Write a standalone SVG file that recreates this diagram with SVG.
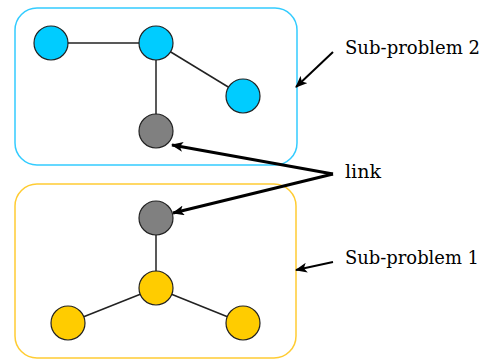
<svg xmlns="http://www.w3.org/2000/svg" width="498" height="360" viewBox="0 0 498 360">
<defs>
<marker id="ah" markerWidth="12" markerHeight="10" refX="11" refY="5" orient="auto" markerUnits="userSpaceOnUse">
<path d="M0,0 L12,5 L0,10 L3,5 Z" fill="#000"/>
</marker>
</defs>
<style>
.node{stroke:#222;stroke-width:1.2}
.blue{fill:#00CCFF}
.yel{fill:#FFCC00}
.gray{fill:#808080}
.edge{stroke:#222;stroke-width:1.5;fill:none}
.link{stroke:#000;stroke-width:3;fill:none;marker-end:url(#ah)}
.ptr{stroke:#000;stroke-width:2;fill:none;marker-end:url(#ah)}
text{font-family:"DejaVu Serif","Liberation Serif",serif;font-size:18px;fill:#000}
</style>
<rect x="0" y="0" width="498" height="360" fill="#fff"/>
<g id="box2"><rect x="15" y="8" width="282" height="157" rx="22" fill="none" stroke="#33CCFF" stroke-width="1.5"/></g>
<g id="box1"><rect x="15" y="184" width="281" height="174" rx="22" fill="none" stroke="#FFCC33" stroke-width="1.5"/></g>
<g id="connectors">
<line class="edge" x1="51" y1="43" x2="156" y2="43"/>
<line class="edge" x1="156" y1="43" x2="243" y2="96"/>
<line class="edge" x1="156" y1="43" x2="156" y2="131"/>
<line class="edge" x1="156" y1="218" x2="156" y2="288"/>
<line class="edge" x1="156" y1="288" x2="68" y2="323"/>
<line class="edge" x1="156" y1="288" x2="243" y2="323"/>
<polyline class="link" points="333,174 172,145"/>
<polyline class="link" points="333,174 173,213"/>
<line class="ptr" x1="333" y1="52" x2="296" y2="87"/>
<line class="ptr" x1="333" y1="262" x2="296" y2="270"/>
</g>
<g id="n1"><circle class="node blue" cx="51" cy="43" r="17"/></g>
<g id="n2"><circle class="node blue" cx="156" cy="43" r="17"/></g>
<g id="n3"><circle class="node blue" cx="243" cy="96" r="17"/></g>
<g id="n4"><circle class="node gray" cx="156" cy="131" r="17"/></g>
<g id="n5"><circle class="node gray" cx="156" cy="218" r="17"/></g>
<g id="n6"><circle class="node yel" cx="156" cy="288" r="17"/></g>
<g id="n7"><circle class="node yel" cx="68" cy="323" r="17"/></g>
<g id="n8"><circle class="node yel" cx="243" cy="323" r="17"/></g>
<g id="labels">
<text x="345" y="54" textLength="135" lengthAdjust="spacingAndGlyphs">Sub-problem 2</text>
<text x="345" y="178" textLength="36" lengthAdjust="spacingAndGlyphs">link</text>
<text x="345" y="264" textLength="134" lengthAdjust="spacingAndGlyphs">Sub-problem 1</text>
</g>
</svg>
